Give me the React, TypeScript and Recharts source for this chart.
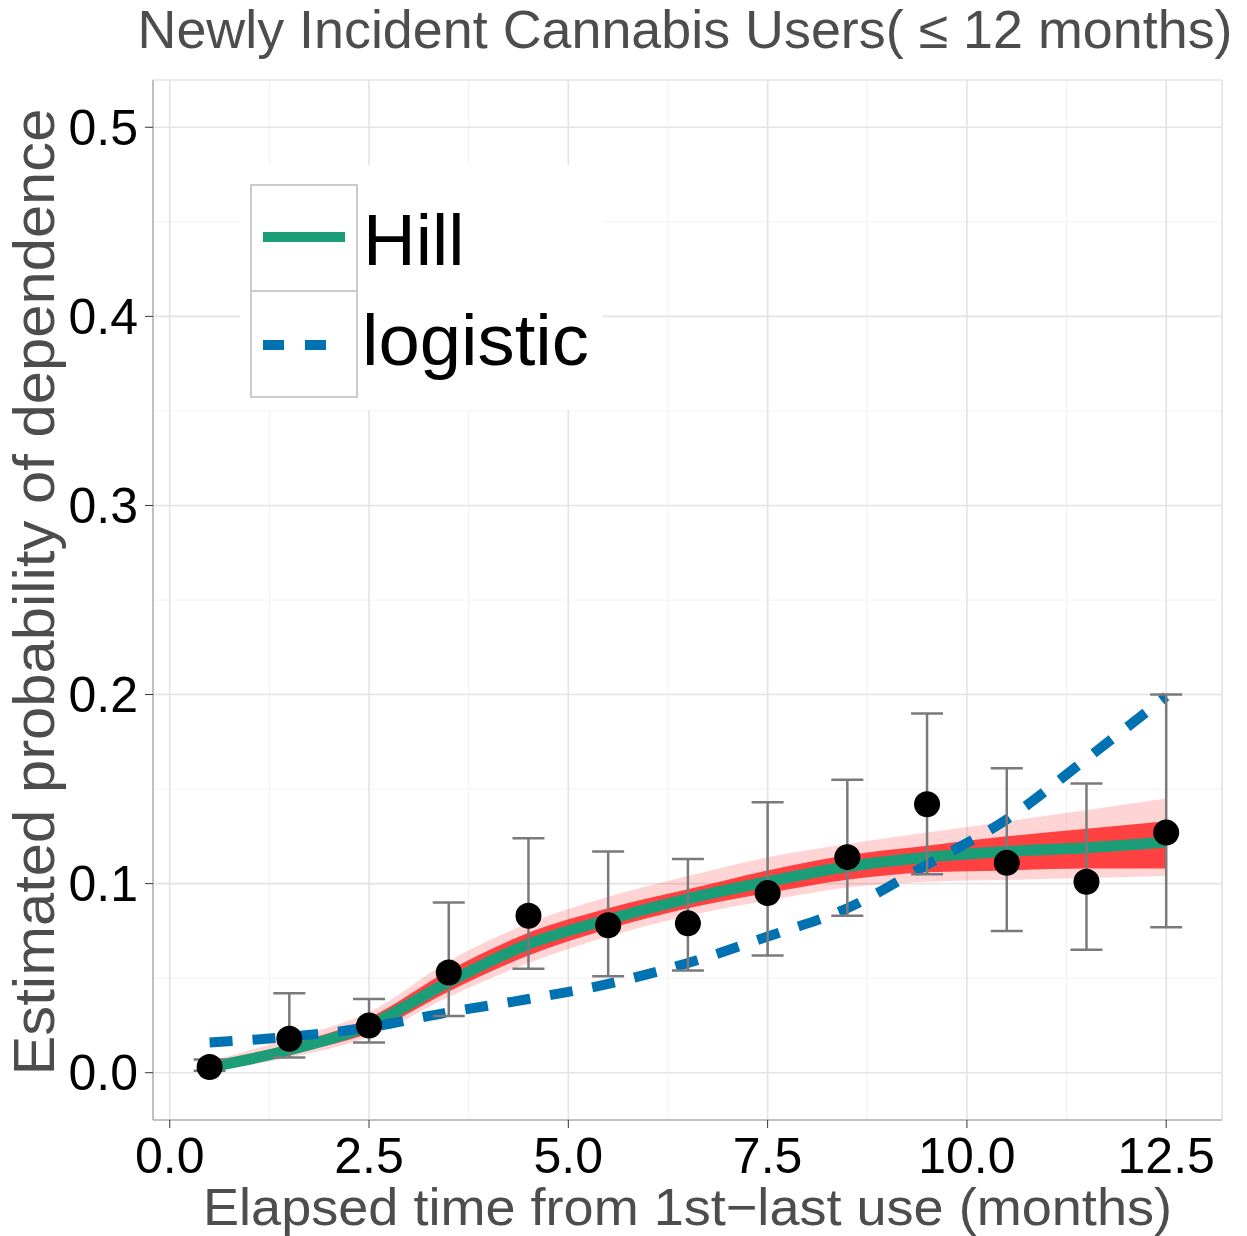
import {
  ComposedChart,
  Line,
  Area,
  Scatter,
  ErrorBar,
  XAxis,
  YAxis,
  CartesianGrid,
  Label,
} from 'recharts';

// elapsed time bins (months)
const months = [0.5, 1.5, 2.5, 3.5, 4.5, 5.5, 6.5, 7.5, 8.5, 9.5, 10.5, 11.5, 12.5];
// observed proportions with their intervals
const observed = [0.003, 0.018, 0.025, 0.053, 0.083, 0.078, 0.079, 0.095, 0.114, 0.142, 0.111, 0.101, 0.127];
const ciLow = [0.001, 0.008, 0.016, 0.030, 0.055, 0.051, 0.054, 0.062, 0.083, 0.105, 0.075, 0.065, 0.077];
const ciHigh = [0.007, 0.042, 0.039, 0.090, 0.124, 0.117, 0.113, 0.143, 0.155, 0.190, 0.161, 0.153, 0.200];
// fitted curves
const hillFit = [0.003, 0.012, 0.025, 0.048, 0.068, 0.081, 0.092, 0.101, 0.109, 0.114, 0.117, 0.119, 0.122];
const logisticFit = [0.016, 0.019, 0.024, 0.032, 0.039, 0.047, 0.058, 0.072, 0.087, 0.110, 0.134, 0.166, 0.199];
// posterior draws around the Hill fit (outer faint, inner dense)
const outerLow = [0.001, 0.008, 0.019, 0.040, 0.058, 0.072, 0.083, 0.091, 0.098, 0.101, 0.102, 0.103, 0.104];
const outerHigh = [0.006, 0.018, 0.032, 0.059, 0.079, 0.093, 0.104, 0.114, 0.121, 0.127, 0.133, 0.139, 0.145];
const innerLow = [0.002, 0.010, 0.021, 0.043, 0.062, 0.076, 0.087, 0.095, 0.102, 0.106, 0.107, 0.108, 0.108];
const innerHigh = [0.005, 0.015, 0.029, 0.054, 0.074, 0.087, 0.097, 0.107, 0.115, 0.120, 0.125, 0.129, 0.133];

const xTicks = [0, 2.5, 5, 7.5, 10, 12.5];
const yTicks = [0, 0.1, 0.2, 0.3, 0.4, 0.5];
const xMinor = [1.25, 3.75, 6.25, 8.75, 11.25];
const yMinor = [0.05, 0.15, 0.25, 0.35, 0.45];

const data = months.map((m, i) => ({
  x: m,
  obs: observed[i],
  err: [observed[i] - ciLow[i], ciHigh[i] - observed[i]],
  hill: hillFit[i],
  logistic: logisticFit[i],
  outer: [outerLow[i], outerHigh[i]],
  inner: [innerLow[i], innerHigh[i]],
}));

const FONT = '"Liberation Sans", Arial, Helvetica, sans-serif';
const GREEN = '#1b9e77';
const BLUE = '#0072b2';

const XTitle = ({ viewBox }: any) => (
  <text x={viewBox.x + viewBox.width / 2} y={viewBox.y + 105} textAnchor="middle"
    fontSize={52} fill="#4d4d4d" fontFamily={FONT} textLength={969} lengthAdjust="spacingAndGlyphs">
    Elapsed time from 1st−last use (months)
  </text>
);

const YTitle = ({ viewBox }: any) => {
  const x = 54;
  const y = viewBox.y + viewBox.height / 2 - 8;
  return (
    <text x={x} y={y} transform={`rotate(-90, ${x}, ${y})`} textAnchor="middle"
      fontSize={58} fill="#4d4d4d" fontFamily={FONT} textLength={967} lengthAdjust="spacingAndGlyphs">
      Estimated probability of dependence
    </text>
  );
};

const Dot = (p: any) => <circle cx={p.cx} cy={p.cy} r={13} fill="#000" />;

const Title = () => (
  <svg width={1247} height={80} style={{ position: 'absolute', left: 0, top: 0 }}>
    <text x={685} y={48} textAnchor="middle" fontSize={53} fill="#4d4d4d" fontFamily={FONT}
      textLength={1095} lengthAdjust="spacingAndGlyphs">
      Newly Incident Cannabis Users( ≤ 12 months)
    </text>
  </svg>
);

const LegendBox = () => (
  <div style={{ position: 'absolute', left: 240, top: 165, width: 362, height: 245, background: '#fff' }}>
    <svg width={362} height={245} style={{ position: 'absolute', left: 0, top: 0 }}>
      <rect x={11} y={20} width={106} height={212} fill="#fff" stroke="#cccccc" strokeWidth={2} />
      <line x1={11} x2={117} y1={126} y2={126} stroke="#cccccc" strokeWidth={2} />
      <line x1={23} x2={105} y1={72} y2={72} stroke={GREEN} strokeWidth={10} />
      <line x1={23} x2={105} y1={180} y2={180} stroke={BLUE} strokeWidth={10} strokeDasharray="21 21" />
      <text x={123} y={100} fontSize={73} fontFamily={FONT} fill="#000">Hill</text>
      <text x={122} y={200} fontSize={73} fontFamily={FONT} fill="#000"
        textLength={227} lengthAdjust="spacingAndGlyphs">logistic</text>
    </svg>
  </div>
);

const App = () => {
  const tickStyle = { fontSize: 50, fill: '#000', fontFamily: FONT };
  return (
    <div style={{ position: 'absolute', left: 0, top: 0, width: 1247, height: 1236, background: '#fff' }}>
      <ComposedChart width={1247} height={1236} data={data}
        margin={{ top: 80, right: 25, bottom: 0, left: 0 }}>
        <CartesianGrid stroke="#f2f2f2" strokeWidth={1}
          horizontalValues={yMinor} verticalValues={xMinor} />
        <CartesianGrid stroke="#e3e3e3" strokeWidth={1.6} />
        <XAxis dataKey="x" type="number" domain={[-0.21, 13.2]} ticks={xTicks} allowDataOverflow
          tickFormatter={(v: number) => v.toFixed(1)} height={116} tick={tickStyle}
          tickSize={8} tickMargin={9} stroke="#9a9a9a" tickLine={{ stroke: '#333' }}>
          <Label content={XTitle} />
        </XAxis>
        <XAxis xAxisId="top" orientation="top" type="number" domain={[-0.21, 13.2]} height={0}
          tick={false} tickLine={false} stroke="#9a9a9a" />
        <YAxis type="number" domain={[-0.025, 0.525]} ticks={yTicks} allowDataOverflow
          tickFormatter={(v: number) => v.toFixed(1)} width={153} tick={tickStyle}
          tickSize={8} tickMargin={7} stroke="#9a9a9a" tickLine={{ stroke: '#333' }}>
          <Label content={YTitle} />
        </YAxis>
        <YAxis yAxisId="right" orientation="right" type="number" domain={[-0.025, 0.525]} width={0}
          tick={false} tickLine={false} stroke="#9a9a9a" />
        <Area dataKey="outer" type="monotone" stroke="none" fill="#ff2a2a" fillOpacity={0.2}
          isAnimationActive={false} activeDot={false} />
        <Area dataKey="inner" type="monotone" stroke="none" fill="#ff1010" fillOpacity={0.75}
          isAnimationActive={false} activeDot={false} />
        <Line dataKey="hill" type="monotone" stroke={GREEN} strokeWidth={11} dot={false}
          isAnimationActive={false} activeDot={false} />
        <Line dataKey="logistic" type="monotone" stroke={BLUE} strokeWidth={10} strokeDasharray="23 20"
          dot={false} isAnimationActive={false} activeDot={false} />
        <Scatter dataKey="obs" shape={Dot} isAnimationActive={false}>
          <ErrorBar dataKey="err" direction="y" width={16} stroke="#7a7a7a" strokeWidth={2.5} />
        </Scatter>
      </ComposedChart>
      <Title />
      <LegendBox />
    </div>
  );
};

export default App;
